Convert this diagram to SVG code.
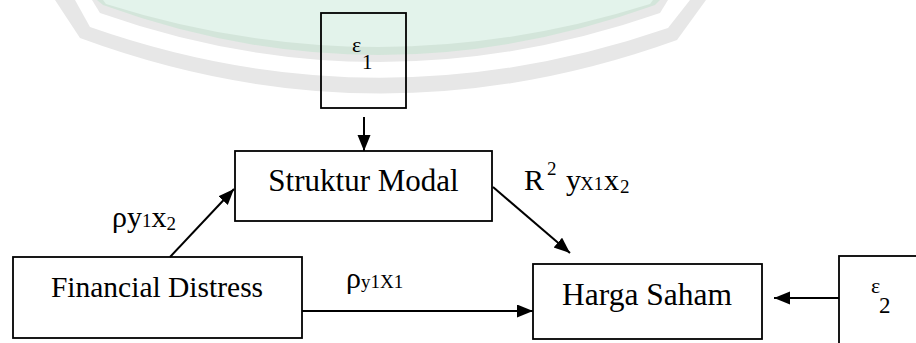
<svg xmlns="http://www.w3.org/2000/svg" width="916" height="343" viewBox="0 0 916 343" font-family="'Liberation Serif', 'DejaVu Serif', 'Times New Roman', serif">
<style>
.box{fill:none;stroke:#000;stroke-width:1.8}
.con{fill:none;stroke:#000;stroke-width:2}
.lbl{font-size:31px;text-anchor:middle}
</style>
<defs>
<marker id="ah" markerUnits="userSpaceOnUse" markerWidth="17" markerHeight="14" refX="16" refY="6.5" orient="auto">
<path d="M0,0 L16,6.5 L0,13 Z" fill="#000"/>
</marker>
</defs>
<rect width="916" height="343" fill="#fff"/>
<g id="watermark">
<path d="M55 0 L80 38 Q378 148 677 40 L706 0 Z" fill="#e7e7e7"/>
<path d="M75 0 L90 27 Q378 128 668 28 L690 0 Z" fill="#fff"/>
<path d="M92 0 L100 13 Q378 111 660 13 L668 0 Z" fill="#e8e8e8"/>
<path d="M97 0 L103 5 Q378 105 655 5 L660 0 Z" fill="#d3e5da"/>
<path d="M103 0 L106 4 Q378 90 650 4 L653 0 Z" fill="#e3f3eb"/>
</g>
<g id="connectors">
<line class="con" x1="364" y1="117" x2="364" y2="151" marker-end="url(#ah)"/>
<line class="con" x1="170" y1="257" x2="234" y2="189" marker-end="url(#ah)"/>
<line class="con" x1="493" y1="187" x2="570" y2="253" marker-end="url(#ah)"/>
<line class="con" x1="302" y1="311" x2="533" y2="311" marker-end="url(#ah)"/>
<line class="con" x1="839" y1="298" x2="774" y2="298" marker-end="url(#ah)"/>
</g>
<g id="eps1">
<rect class="box" x="321" y="13" width="85" height="95"/>
<text x="352" y="52" font-size="22" font-family="'Liberation Serif', 'DejaVu Serif', serif">ε</text>
<text x="362" y="69" font-size="21" font-family="'Liberation Serif', 'DejaVu Serif', serif">1</text>
</g>
<g id="struktur-modal">
<rect class="box" x="235" y="151" width="257" height="70"/>
<text class="lbl" x="363.5" y="191" font-family="'Liberation Serif', 'DejaVu Serif', serif">Struktur Modal</text>
</g>
<g id="financial-distress">
<rect class="box" x="13" y="257" width="289" height="81"/>
<text class="lbl" x="157" y="297" style="font-size:29.5px" font-family="'Liberation Serif', 'DejaVu Serif', serif">Financial Distress</text>
</g>
<g id="harga-saham">
<rect class="box" x="533" y="264" width="229" height="75"/>
<text class="lbl" x="647" y="305" style="font-size:31.5px" font-family="'Liberation Serif', 'DejaVu Serif', serif">Harga Saham</text>
</g>
<g id="eps2">
<rect class="box" x="839" y="256" width="100" height="120"/>
<text x="871" y="293" font-size="22" font-family="'Liberation Serif', 'DejaVu Serif', serif">ε</text>
<text x="879" y="313" font-size="23" font-family="'Liberation Serif', 'DejaVu Serif', serif">2</text>
</g>
<g id="labels" font-family="'Liberation Serif', 'DejaVu Serif', serif">
<text x="112" y="227" font-size="30">ρy<tspan font-size="19">1</tspan>x<tspan font-size="19" dy="3">2</tspan></text>
<text x="346" y="288" font-size="30">ρ<tspan font-size="19">y1X1</tspan></text>
<text x="524" y="190" font-size="30">R<tspan x="547" y="175" font-size="19">2</tspan><tspan x="566" y="190">y</tspan><tspan x="580" y="190" font-size="19">X1</tspan><tspan x="604" y="190">x</tspan><tspan x="620" y="193" font-size="19">2</tspan></text>
</g>
</svg>
